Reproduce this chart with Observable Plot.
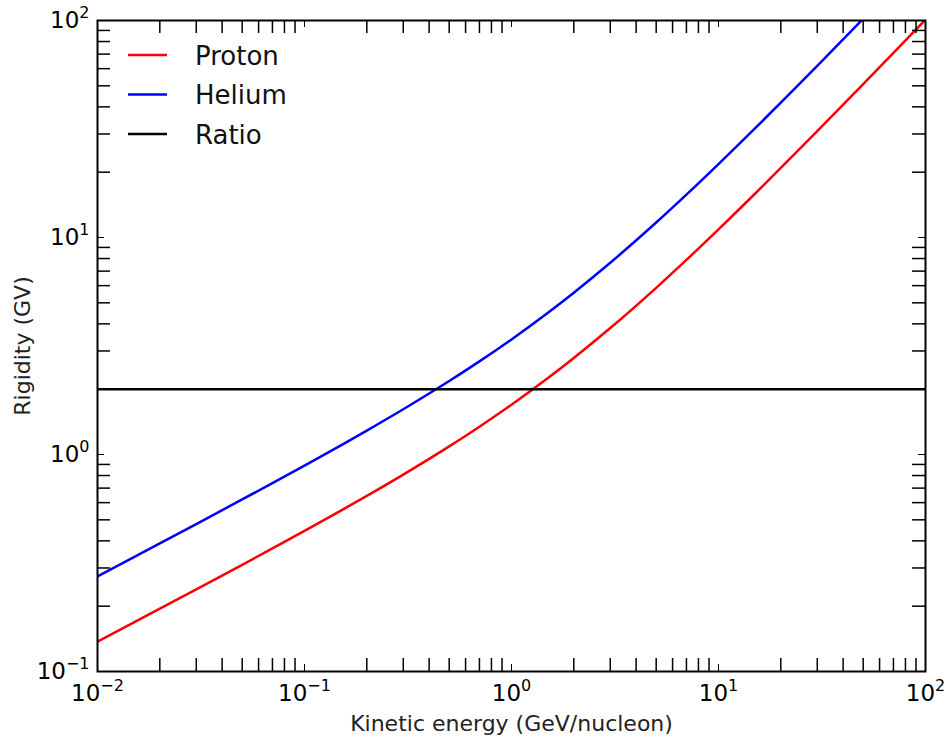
<!DOCTYPE html>
<html>
<head>
<meta charset="utf-8">
<script src="https://cdn.jsdelivr.net/npm/d3@7"></script>
<script src="https://cdn.jsdelivr.net/npm/@observablehq/plot@0.6"></script>
<style>
  body { margin: 0; background: #fff; }
  #chart { width: 947px; height: 746px; }
</style>
</head>
<body>
<div id="chart"></div>
<script>
// Kinetic energy per nucleon (GeV/nucleon)
const energy = [0.01, 0.015, 0.02, 0.03, 0.05, 0.07, 0.1, 0.15, 0.2, 0.3, 0.5, 0.7,
                1, 1.5, 2, 3, 5, 7, 10, 15, 20, 30, 50, 70, 100];
// Rigidity (GV) of protons at those energies
const proton = [0.1373, 0.1684, 0.1947, 0.2391, 0.3103, 0.3691, 0.4445, 0.5513, 0.6444, 0.8080, 1.0900, 1.3428,
                1.6959, 2.2503, 2.7842, 3.8247, 5.8634, 7.8824, 10.898, 15.910, 20.917, 30.924, 50.929, 70.932, 100.93];
// Rigidity (GV) of helium nuclei (runs off the top of the frame past ~50 GeV/n)
const helium = [0.2746, 0.3368, 0.3894, 0.4782, 0.6206, 0.7382, 0.8890, 1.1026, 1.2888, 1.6160, 2.1800, 2.6856,
                3.3918, 4.5006, 5.5684, 7.6494, 11.727, 15.765, 21.796, 31.820, 41.834, 61.848, 101.86];
// Helium / proton rigidity ratio
const ratio = 2;

// Decade ticks and their exponent labels
const xMajor = [0.01, 0.1, 1, 10, 100];
const xExponents = ["\u22122", "\u22121", "0", "1", "2"];
const yMajor = [0.1, 1, 10, 100];
const yExponents = ["\u22121", "0", "1", "2"];
const minorSteps = [2, 3, 4, 5, 6, 7, 8, 9];

const xMinor = xMajor.slice(0, -1).flatMap(d => minorSteps.map(m => d * m));
const yMinor = yMajor.slice(0, -1).flatMap(d => minorSteps.map(m => d * m));

const protonRows = energy.map((e, i) => ({energy: e, rigidity: proton[i]}));
const heliumRows = helium.map((r, i) => ({energy: energy[i], rigidity: r}));

const W = 947, H = 746;
const mL = 97, mR = 22, mT = 20, mB = 75;
const innerW = W - mL - mR, innerH = H - mT - mB;
const minorLen = 13, majorLen = 7;

const chart = Plot.plot({
  width: W,
  height: H,
  marginLeft: mL,
  marginRight: mR,
  marginTop: mT,
  marginBottom: mB,
  style: {fontFamily: "DejaVu Sans", background: "white", color: "black", overflow: "visible"},
  x: {type: "log", domain: [0.01, 100], axis: null},
  y: {type: "log", domain: [0.1, 100], axis: null},
  marks: [
    Plot.line(protonRows, {x: "energy", y: "rigidity", stroke: "#ff0000", strokeWidth: 2.5, curve: "monotone-x", clip: true}),
    Plot.line(heliumRows, {x: "energy", y: "rigidity", stroke: "#0000ff", strokeWidth: 2.5, curve: "monotone-x", clip: true}),
    Plot.ruleY([ratio], {stroke: "black", strokeWidth: 2.5}),

    // inward ticks on all four sides
    Plot.tickX(xMinor, {x: d => d, insetTop: innerH - minorLen, stroke: "black", strokeWidth: 1.5}),
    Plot.tickX(xMinor, {x: d => d, insetBottom: innerH - minorLen, stroke: "black", strokeWidth: 1.5}),
    Plot.tickX(xMajor, {x: d => d, insetTop: innerH - majorLen, stroke: "black", strokeWidth: 1}),
    Plot.tickX(xMajor, {x: d => d, insetBottom: innerH - majorLen, stroke: "black", strokeWidth: 1}),
    Plot.tickY(yMinor, {y: d => d, insetRight: innerW - minorLen, stroke: "black", strokeWidth: 1.5}),
    Plot.tickY(yMinor, {y: d => d, insetLeft: innerW - minorLen, stroke: "black", strokeWidth: 1.5}),
    Plot.tickY(yMajor, {y: d => d, insetRight: innerW - majorLen, stroke: "black", strokeWidth: 1}),
    Plot.tickY(yMajor, {y: d => d, insetLeft: innerW - majorLen, stroke: "black", strokeWidth: 1}),

    Plot.frame({stroke: "black", strokeWidth: 2}),

    // tick labels
    Plot.text(xMajor, {x: d => d, text: (d, i) => "10^" + xExponents[i], frameAnchor: "bottom",
      lineAnchor: "top", dy: 13, fontSize: 23, fill: "black"}),
    Plot.text(yMajor, {y: d => d, text: (d, i) => "10^" + yExponents[i], frameAnchor: "left",
      textAnchor: "end", dx: -8, fontSize: 23, fill: "black"}),

    // axis titles
    Plot.text(["Kinetic energy (GeV/nucleon)"], {text: d => d, frameAnchor: "bottom", dy: 59, fontSize: 22, fill: "#222"}),
    Plot.text(["Rigidity (GV)"], {text: d => d, frameAnchor: "left", textAnchor: "middle", rotate: -90, dx: -75, fontSize: 22, fill: "#222"})
  ]
});

// Render "10^n" labels with a raised exponent
chart.querySelectorAll("text").forEach(t => {
  const m = /^10\^(.+)$/.exec(t.textContent);
  if (!m) return;
  t.textContent = "";
  const ns = "http://www.w3.org/2000/svg";
  const base = document.createElementNS(ns, "tspan");
  base.textContent = "10";
  const sup = document.createElementNS(ns, "tspan");
  sup.textContent = m[1];
  sup.setAttribute("dy", "-10");
  sup.setAttribute("font-size", "16");
  t.appendChild(base);
  t.appendChild(sup);
});

// Legend in the upper-left corner of the frame
const legendItems = [
  {label: "Proton", color: "#ff0000"},
  {label: "Helium", color: "#0000ff"},
  {label: "Ratio", color: "black"}
];
const legend = d3.select(chart).append("g")
  .attr("font-family", "DejaVu Sans")
  .attr("font-size", 26)
  .attr("text-anchor", "start");
legendItems.forEach((item, i) => {
  const y = 55 + i * 39.5;
  legend.append("line")
    .attr("x1", 128).attr("x2", 167).attr("y1", y).attr("y2", y)
    .attr("stroke", item.color).attr("stroke-width", 2.5);
  legend.append("text")
    .attr("x", 195).attr("y", y + 9.5)
    .attr("fill", "#111")
    .text(item.label);
});

document.getElementById("chart").appendChild(chart);
</script>
</body>
</html>
